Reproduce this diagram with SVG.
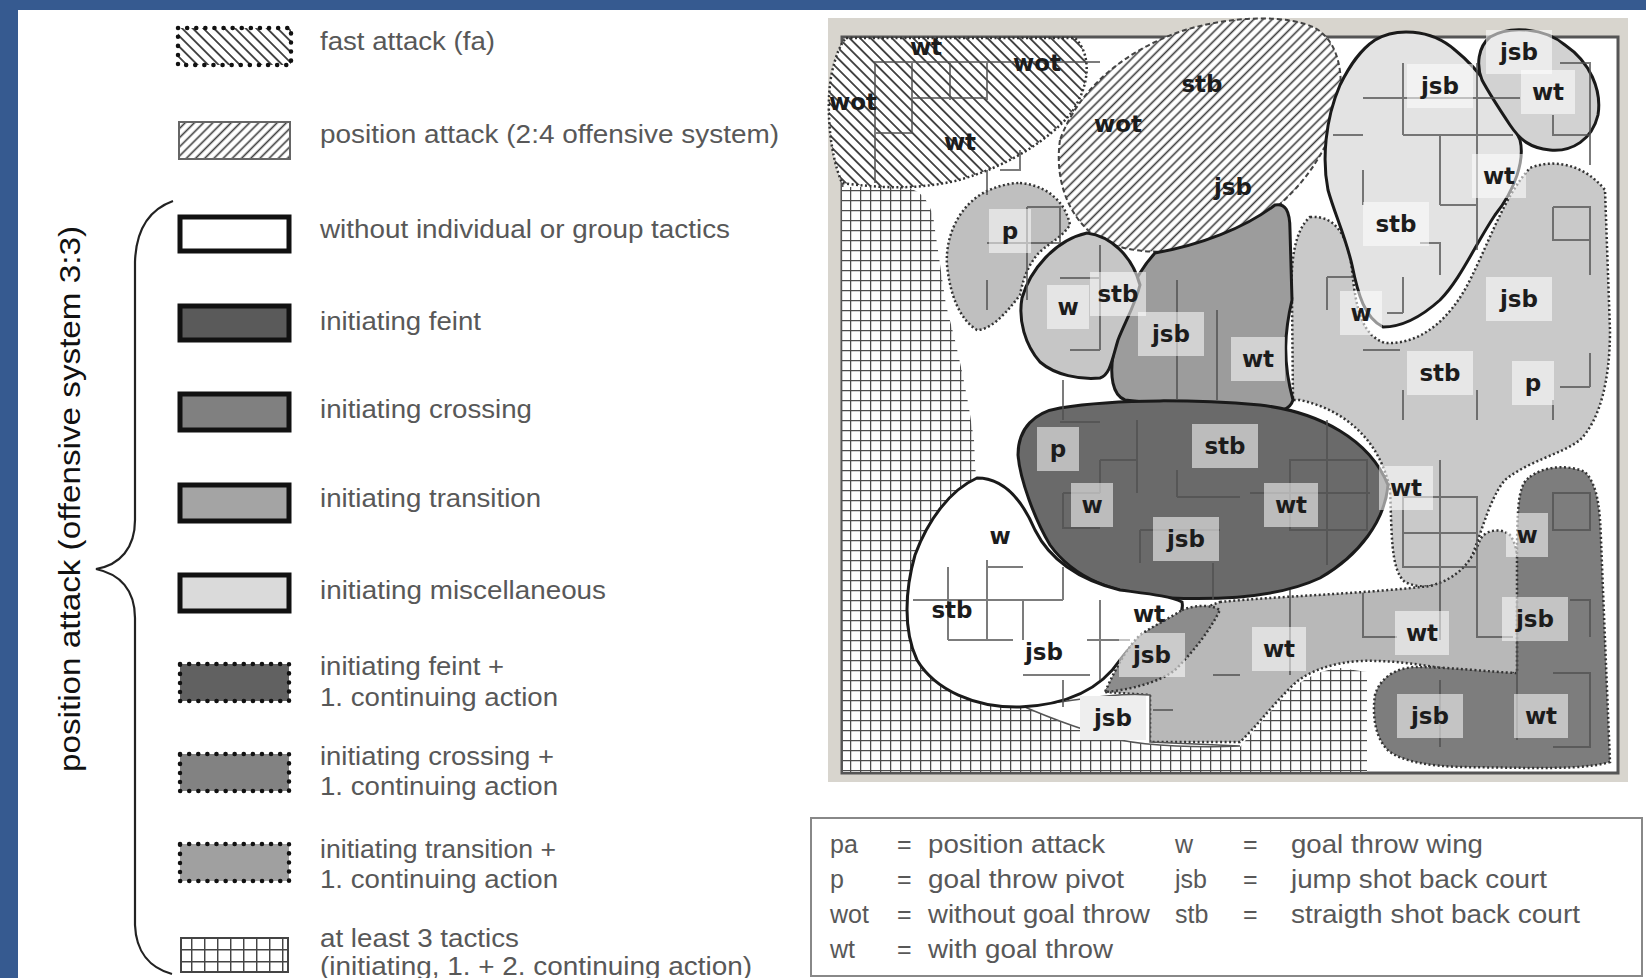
<svg xmlns="http://www.w3.org/2000/svg" width="1646" height="978" viewBox="0 0 1646 978">
<defs>
<pattern id="hfa" width="7.5" height="7.5" patternUnits="userSpaceOnUse" patternTransform="rotate(-45)"><rect width="7.5" height="7.5" fill="#fff"/><line x1="3.75" y1="0" x2="3.75" y2="7.5" stroke="#3a3a3a" stroke-width="1.8"/></pattern>
<pattern id="hpa" width="6.5" height="6.5" patternUnits="userSpaceOnUse" patternTransform="rotate(45)"><rect width="6.5" height="6.5" fill="#fff"/><line x1="3.25" y1="0" x2="3.25" y2="6.5" stroke="#3c3c3c" stroke-width="1.6"/></pattern>
<pattern id="grid" width="10" height="10" patternUnits="userSpaceOnUse"><rect width="10" height="10" fill="#fff"/><path d="M0,0.6 H10 M0.6,0 V10" stroke="#4d4d4d" stroke-width="1.3"/></pattern>
<pattern id="grid2" width="13" height="12" patternUnits="userSpaceOnUse" x="178" y="937"><rect width="13" height="12" fill="#fff"/><path d="M0,0.7 H13 M0.7,0 V12" stroke="#444" stroke-width="1.5"/></pattern>
</defs>
<style>
.lg{font-family:"Liberation Sans",Arial,sans-serif;font-size:25px;fill:#585858}
.bx{font-family:"Liberation Sans",Arial,sans-serif;font-size:25px;fill:#585858}
.t{font-family:"DejaVu Sans",sans-serif;font-weight:bold;font-size:23px;fill:#1c1c1c;text-anchor:middle}
.lb{fill:#fff;opacity:.55}
.solid{stroke:#1a1a1a;stroke-width:3}
.dot{stroke:#333;stroke-width:2.5;stroke-dasharray:2 2.5}
.sw{stroke:#111;stroke-width:5}
.swd{stroke:#111;stroke-width:4.5;stroke-dasharray:0.1 9;stroke-linecap:round}
.mk{fill:none;stroke:#505050;stroke-width:2;opacity:.75}
</style>
<rect width="1646" height="978" fill="#fff"/>
<rect x="0" y="0" width="1646" height="10" fill="#365a90"/>
<rect x="0" y="0" width="18" height="978" fill="#365a90"/>

<!-- legend -->
<g id="leg-fa"><rect x="178" y="28" width="113" height="37" fill="url(#hfa)"/><rect x="178" y="28" width="113" height="37" fill="none" class="swd"/><text class="lg" x="320" y="50" textLength="175" lengthAdjust="spacingAndGlyphs">fast attack (fa)</text></g>
<g id="leg-pa"><rect x="179" y="122" width="111" height="37" fill="url(#hpa)" stroke="#666" stroke-width="2"/><text class="lg" x="320" y="143" textLength="459" lengthAdjust="spacingAndGlyphs">position attack (2:4 offensive system)</text></g>
<g id="leg-wo"><rect x="180" y="217" width="109" height="34" fill="#fff" class="sw"/><text class="lg" x="320" y="238" textLength="410" lengthAdjust="spacingAndGlyphs">without individual or group tactics</text></g>
<g id="leg-if"><rect x="180" y="306" width="109" height="34" fill="#5a5a5a" class="sw"/><text class="lg" x="320" y="330" textLength="161" lengthAdjust="spacingAndGlyphs">initiating feint</text></g>
<g id="leg-ic"><rect x="180" y="394" width="109" height="36" fill="#808080" class="sw"/><text class="lg" x="320" y="418" textLength="212" lengthAdjust="spacingAndGlyphs">initiating crossing</text></g>
<g id="leg-it"><rect x="180" y="485" width="109" height="36" fill="#a4a4a4" class="sw"/><text class="lg" x="320" y="507" textLength="221" lengthAdjust="spacingAndGlyphs">initiating transition</text></g>
<g id="leg-im"><rect x="180" y="575" width="109" height="36" fill="#dadada" class="sw"/><text class="lg" x="320" y="599" textLength="286" lengthAdjust="spacingAndGlyphs">initiating miscellaneous</text></g>
<g id="leg-if1"><rect x="180" y="664" width="109" height="37" fill="#616161"/><rect x="180" y="664" width="109" height="37" fill="none" class="swd"/><text class="lg" x="320" y="675" textLength="184" lengthAdjust="spacingAndGlyphs">initiating feint +</text><text class="lg" x="320" y="706" textLength="238" lengthAdjust="spacingAndGlyphs">1. continuing action</text></g>
<g id="leg-ic1"><rect x="180" y="754" width="109" height="37" fill="#828282"/><rect x="180" y="754" width="109" height="37" fill="none" class="swd"/><text class="lg" x="320" y="765" textLength="234" lengthAdjust="spacingAndGlyphs">initiating crossing +</text><text class="lg" x="320" y="795" textLength="238" lengthAdjust="spacingAndGlyphs">1. continuing action</text></g>
<g id="leg-it1"><rect x="180" y="844" width="109" height="37" fill="#a0a0a0"/><rect x="180" y="844" width="109" height="37" fill="none" class="swd"/><text class="lg" x="320" y="858" textLength="236" lengthAdjust="spacingAndGlyphs">initiating transition +</text><text class="lg" x="320" y="888" textLength="238" lengthAdjust="spacingAndGlyphs">1. continuing action</text></g>
<g id="leg-3t"><rect x="181" y="938" width="107" height="34" fill="url(#grid2)" stroke="#444" stroke-width="2"/><text class="lg" x="320" y="947" textLength="199" lengthAdjust="spacingAndGlyphs">at least 3 tactics</text><text class="lg" x="320" y="975" textLength="432" lengthAdjust="spacingAndGlyphs">(initiating, 1. + 2. continuing action)</text></g>

<g id="brace">
<path d="M173,201 C148,210 136,230 135,262 L135,520 C135,548 120,565 96,569 C120,574 135,590 135,618 L135,925 C136,952 150,968 172,974" fill="none" stroke="#222" stroke-width="2.2"/>
<text x="80" y="499" transform="rotate(-90 80 499)" text-anchor="middle" font-family="Liberation Sans, Arial, sans-serif" font-size="30" fill="#111" textLength="546" lengthAdjust="spacingAndGlyphs">position attack (offensive system 3:3)</text>
</g>

<!-- court -->
<g id="court">
<rect x="828" y="18" width="800" height="764" fill="#d8d5ce"/>
<rect x="842" y="37" width="776" height="736" fill="#fff" stroke="#555" stroke-width="3"/>
</g>

<g id="r-grid"><path d="M842,187 L905,187 Q932,192 935,230 L946,305 Q965,375 974,440 L976,480 L976,700 L1027,707 C1070,722 1137,745 1187,747 L1240,747 Q1262,720 1290,690 Q1315,670 1340,668 L1367,672 L1367,772 L843,772 Z" fill="url(#grid)"/></g>

<g id="r-fa"><path d="M846,38 L1075,38 C1092,55 1090,85 1072,112 C1050,140 1005,168 955,181 C915,190 880,188 842,183 C828,150 826,100 832,72 C836,55 840,45 846,38 Z" fill="url(#hfa)" class="dot"/></g>

<g id="r-pa"><path d="M1060,140 C1055,175 1065,210 1090,232 C1115,252 1160,258 1210,244 C1260,228 1305,190 1328,140 C1348,95 1345,45 1315,28 C1290,15 1235,15 1185,30 C1130,48 1080,85 1060,140 Z" fill="url(#hpa)" stroke="#444" stroke-width="2" stroke-dasharray="5 3"/></g>

<g id="r-K"><path d="M1310,217 C1335,215 1348,235 1352,270 C1356,310 1362,335 1385,343 C1420,345 1450,320 1470,280 C1490,240 1505,195 1530,168 C1555,158 1585,165 1605,190 L1610,330 C1610,380 1600,420 1580,440 C1560,455 1530,460 1505,480 C1488,500 1480,540 1468,565 C1455,585 1425,592 1405,582 C1390,570 1392,530 1390,490 C1380,440 1345,410 1300,400 L1293,400 L1292,300 C1290,260 1295,230 1310,217 Z" fill="#c9c9c9" class="dot"/></g>

<g id="r-I"><path d="M1220,602 C1280,596 1360,594 1430,586 C1460,578 1472,560 1480,540 C1485,530 1500,527 1510,535 C1520,548 1520,580 1520,610 L1520,670 C1505,680 1480,676 1450,670 C1420,664 1390,660 1360,661 C1330,663 1305,672 1290,688 C1270,708 1255,728 1240,742 L1150,742 L1150,695 L1105,692 C1130,660 1180,615 1220,602 Z" fill="#b8b8b8" class="dot"/></g>

<g id="r-J"><path d="M1530,477 C1545,465 1570,465 1585,472 C1598,485 1600,510 1601,540 L1605,640 L1610,762 C1590,768 1560,768 1530,768 L1460,767 C1430,766 1405,762 1390,752 C1375,740 1372,715 1375,695 C1380,678 1395,668 1415,667 C1450,667 1490,672 1517,673 L1517,567 C1517,540 1517,510 1520,495 C1522,485 1525,480 1530,477 Z" fill="#7d7d7d" class="dot"/></g>

<g id="r-L"><path d="M1375,40 C1395,28 1430,28 1455,50 C1480,70 1505,105 1520,140 C1525,160 1515,190 1495,215 C1475,245 1460,280 1440,300 C1420,318 1400,327 1383,327 C1365,318 1358,295 1352,265 C1345,235 1335,215 1328,190 C1322,160 1325,120 1340,85 C1350,65 1360,50 1375,40 Z" fill="#e3e3e3" class="solid"/></g>

<g id="r-M"><path d="M1490,37 C1510,25 1545,28 1565,45 C1590,62 1602,90 1598,115 C1592,140 1572,152 1550,150 C1530,148 1520,140 1510,125 C1500,110 1490,95 1482,80 C1476,65 1478,47 1490,37 Z" fill="#d2d2d2" class="solid"/></g>

<g id="r-D"><path d="M1020,183 C1045,185 1065,200 1070,225 C1060,240 1045,245 1037,255 C1025,270 1022,285 1020,295 C1005,315 990,330 977,330 C960,320 950,295 947,265 C945,235 960,205 985,192 C995,187 1008,183 1020,183 Z" fill="#bfbfbf" class="dot"/></g>

<g id="r-F"><path d="M1155,253 C1200,245 1245,228 1275,205 C1285,203 1290,210 1290,230 L1292,300 C1285,330 1282,360 1293,400 C1290,410 1280,413 1260,412 C1220,410 1170,405 1125,400 C1112,395 1110,375 1113,355 C1118,320 1130,280 1155,253 Z" fill="#9c9c9c" class="solid"/></g>

<g id="r-E"><path d="M1087,233 C1110,236 1132,255 1140,285 C1135,305 1125,322 1118,340 C1112,360 1110,375 1100,378 C1080,380 1055,375 1040,362 C1025,345 1018,320 1022,298 C1030,270 1055,240 1087,233 Z" fill="#c6c6c6" class="solid"/></g>

<g id="r-G"><path d="M1060,408 C1120,398 1200,400 1260,405 C1320,412 1370,440 1388,485 C1385,520 1360,555 1320,578 C1280,597 1220,600 1170,598 C1120,595 1075,580 1050,545 C1035,520 1020,480 1018,455 C1018,428 1035,412 1060,408 Z" fill="#6a6a6a" class="solid"/></g>

<g id="r-tail"><path d="M1020,705 C1060,705 1100,692 1150,695 L1150,742 L1240,746 C1200,748 1150,746 1120,740 C1080,730 1050,718 1020,705 Z" fill="#fff" stroke="#555" stroke-width="1.5"/></g>

<g id="r-H"><path d="M977,478 C1000,478 1020,495 1035,530 C1050,560 1080,580 1120,590 C1150,594 1170,596 1182,602 C1184,612 1178,618 1168,620 C1150,630 1135,640 1120,660 C1100,690 1065,705 1020,707 C975,708 935,690 917,660 C903,630 905,590 915,555 C928,520 950,490 977,478 Z" fill="#fff" class="solid"/></g>

<g id="r-cx"><path d="M1182,610 C1195,605 1210,604 1220,610 C1210,630 1195,650 1175,670 C1160,682 1130,690 1105,692 C1115,670 1125,650 1140,635 C1155,625 1170,618 1182,610 Z" fill="#8c8c8c" class="dot"/></g>

<g id="markings"><path class="mk" d="M873,62 H1100 M875,62 V183 M912,62 V133 M912,98 H987 M950,62 V100 M987,62 V100 M875,133 H912 M1020,150 V170 H1000 M987,170 V195 M987,243 H1060 M1027,207 V300 M987,280 V310 M1027,207 H1060 V243 M1060,278 H1100 M1100,245 V350 M1070,350 H1100 M1177,280 V400 M1217,310 V400 M1063,380 V420 M1403,63 V135 M1363,98 H1520 M1403,135 H1513 M1477,63 V250 M1440,135 V205 M1440,205 H1477 M1363,170 V205 M1333,135 H1363 M1560,63 H1590 V165 M1553,115 V135 H1590 M1553,207 H1590 V275 M1553,207 V240 H1590 M1420,243 H1440 V275 M1327,277 H1353 M1327,277 V310 M1403,277 V313 M1387,313 H1403 M1363,350 H1400 M1403,390 V420 M1477,390 V420 M1560,387 H1590 M1590,353 V387 M1553,400 V420 M1060,422 H1100 M1137,420 V493 M1100,460 H1137 M1100,460 V493 M1063,493 H1100 M1063,493 V528 H1100 M1140,530 H1220 M1140,530 V563 M1177,497 H1240 M1177,470 V497 M1213,563 V600 M987,560 V640 M987,567 H1023 M1063,567 V600 M913,600 H1063 M948,567 V640 M948,640 H1013 M1023,600 V640 M1087,640 H1130 M1100,600 V680 M1023,675 H1090 M1063,680 V707 M1213,675 H1240 M1153,710 H1173 M1290,460 H1367 V530 H1290 Z M1327,420 V565 M1250,493 H1370 M1440,460 V640 M1403,497 H1477 V567 H1403 Z M1403,533 H1477 M1477,567 V637 H1513 M1290,590 V675 M1363,593 V637 H1397 M1553,493 H1590 V530 H1553 Z M1570,600 H1590 V637 M1553,673 H1590 V747 H1553 M1517,600 V740 M1440,680 V747"/></g>

<g id="labels">
<text class="t" x="926" y="55">wt</text>
<text class="t" x="1037" y="71">wot</text>
<text class="t" x="853" y="110">wot</text>
<text class="t" x="960" y="150">wt</text>
<text class="t" x="1202" y="92">stb</text>
<text class="t" x="1118" y="132">wot</text>
<text class="t" x="1233" y="195">jsb</text>
<rect class="lb" x="989" y="209" width="42" height="44"/><text class="t" x="1010" y="239">p</text>
<rect class="lb" x="1047" y="285" width="42" height="44"/><text class="t" x="1068" y="315">w</text>
<rect class="lb" x="1090" y="272" width="56" height="44"/><text class="t" x="1118" y="302">stb</text>
<rect class="lb" x="1138" y="312" width="66" height="44"/><text class="t" x="1171" y="342">jsb</text>
<rect class="lb" x="1231" y="337" width="54" height="44"/><text class="t" x="1258" y="367">wt</text>
<rect class="lb" x="1037" y="427" width="42" height="44"/><text class="t" x="1058" y="457">p</text>
<rect class="lb" x="1192" y="424" width="66" height="44"/><text class="t" x="1225" y="454">stb</text>
<rect class="lb" x="1071" y="483" width="42" height="44"/><text class="t" x="1092" y="513">w</text>
<rect class="lb" x="1264" y="483" width="54" height="44"/><text class="t" x="1291" y="513">wt</text>
<rect class="lb" x="1153" y="517" width="66" height="44"/><text class="t" x="1186" y="547">jsb</text>
<text class="t" x="1000" y="544">w</text>
<text class="t" x="952" y="618">stb</text>
<text class="t" x="1044" y="660">jsb</text>
<text class="t" x="1149" y="622">wt</text>
<rect class="lb" x="1119" y="633" width="66" height="44"/><text class="t" x="1152" y="663">jsb</text>
<rect x="1080" y="696" width="66" height="44" fill="#eee"/><text class="t" x="1113" y="726">jsb</text>
<rect class="lb" x="1252" y="627" width="54" height="44"/><text class="t" x="1279" y="657">wt</text>
<rect class="lb" x="1395" y="611" width="54" height="44"/><text class="t" x="1422" y="641">wt</text>
<rect class="lb" x="1506" y="513" width="42" height="44"/><text class="t" x="1527" y="543">w</text>
<rect class="lb" x="1502" y="597" width="66" height="44"/><text class="t" x="1535" y="627">jsb</text>
<rect class="lb" x="1397" y="694" width="66" height="44"/><text class="t" x="1430" y="724">jsb</text>
<rect class="lb" x="1514" y="694" width="54" height="44"/><text class="t" x="1541" y="724">wt</text>
<rect class="lb" x="1486" y="277" width="66" height="44"/><text class="t" x="1519" y="307">jsb</text>
<rect class="lb" x="1407" y="351" width="66" height="44"/><text class="t" x="1440" y="381">stb</text>
<rect class="lb" x="1512" y="361" width="42" height="44"/><text class="t" x="1533" y="391">p</text>
<rect class="lb" x="1379" y="466" width="54" height="44"/><text class="t" x="1406" y="496">wt</text>
<rect class="lb" x="1407" y="64" width="66" height="44"/><text class="t" x="1440" y="94">jsb</text>
<rect class="lb" x="1363" y="202" width="66" height="44"/><text class="t" x="1396" y="232">stb</text>
<rect class="lb" x="1472" y="154" width="54" height="44"/><text class="t" x="1499" y="184">wt</text>
<rect class="lb" x="1340" y="291" width="42" height="44"/><text class="t" x="1361" y="321">w</text>
<rect class="lb" x="1486" y="30" width="66" height="44"/><text class="t" x="1519" y="60">jsb</text>
<rect class="lb" x="1521" y="70" width="54" height="44"/><text class="t" x="1548" y="100">wt</text>
</g>

<g id="abbrev">
<rect x="811" y="818" width="831" height="158" fill="#fff" stroke="#888" stroke-width="2"/>
<text class="bx" x="830" y="853">pa</text><text class="bx" x="897" y="853">=</text><text class="bx" x="928" y="853" textLength="177" lengthAdjust="spacingAndGlyphs">position attack</text>
<text class="bx" x="1175" y="853">w</text><text class="bx" x="1243" y="853">=</text><text class="bx" x="1291" y="853" textLength="192" lengthAdjust="spacingAndGlyphs">goal throw wing</text>
<text class="bx" x="830" y="888">p</text><text class="bx" x="897" y="888">=</text><text class="bx" x="928" y="888" textLength="196" lengthAdjust="spacingAndGlyphs">goal throw pivot</text>
<text class="bx" x="1175" y="888">jsb</text><text class="bx" x="1243" y="888">=</text><text class="bx" x="1291" y="888" textLength="256" lengthAdjust="spacingAndGlyphs">jump shot back court</text>
<text class="bx" x="830" y="923">wot</text><text class="bx" x="897" y="923">=</text><text class="bx" x="928" y="923" textLength="222" lengthAdjust="spacingAndGlyphs">without goal throw</text>
<text class="bx" x="1175" y="923">stb</text><text class="bx" x="1243" y="923">=</text><text class="bx" x="1291" y="923" textLength="289" lengthAdjust="spacingAndGlyphs">straigth shot back court</text>
<text class="bx" x="830" y="958">wt</text><text class="bx" x="897" y="958">=</text><text class="bx" x="928" y="958" textLength="185" lengthAdjust="spacingAndGlyphs">with goal throw</text>
</g>
</svg>
